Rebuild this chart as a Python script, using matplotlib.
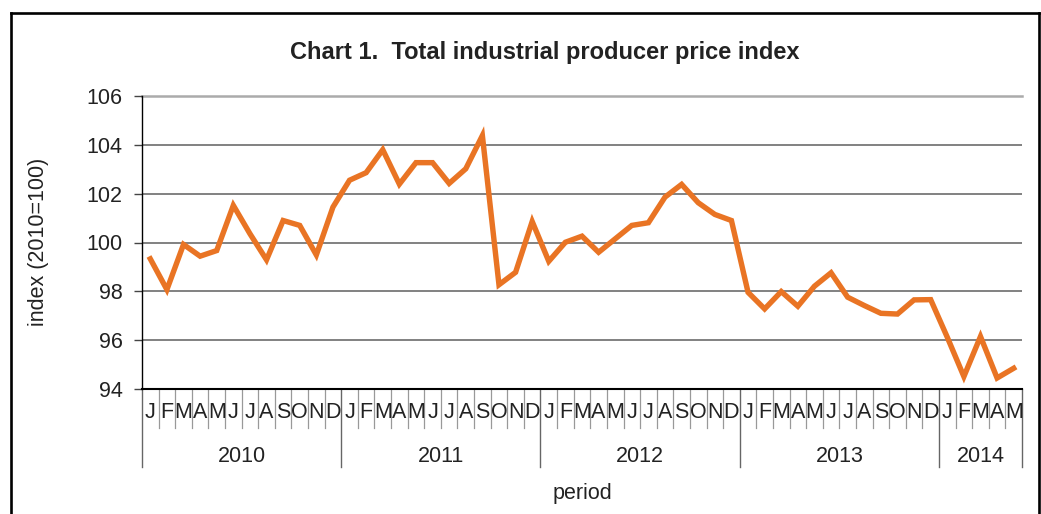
import matplotlib
matplotlib.use("Agg")
import matplotlib.pyplot as plt
from matplotlib.lines import Line2D

plt.rcParams['font.family'] = ['Liberation Sans', 'DejaVu Sans']

# monthly index values, Jan 2010 .. May 2014
years = ["2010", "2011", "2012", "2013", "2014"]
months_per_year = [12, 12, 12, 12, 5]
month_letters = ["J", "F", "M", "A", "M", "J", "J", "A", "S", "O", "N", "D"]
index_values = [
    99.33, 98.07, 99.92, 99.44, 99.67, 101.52, 100.36, 99.29, 100.90, 100.70, 99.49, 101.45,
    102.55, 102.86, 103.80, 102.39, 103.27, 103.27, 102.42, 103.02, 104.38, 98.27, 98.78, 100.86,
    99.23, 100.01, 100.26, 99.60, 100.15, 100.70, 100.81, 101.86, 102.38, 101.63, 101.15, 100.90,
    97.96, 97.28, 97.99, 97.39, 98.21, 98.76, 97.76, 97.42, 97.10, 97.07, 97.65, 97.66,
    96.12, 94.51, 96.15, 94.45, 94.85,
]
y_ticks = [94, 96, 98, 100, 102, 104, 106]


def show_graph():
    """Draw the PPI line chart and save it"""
    W, H = 1041, 514
    fig = plt.figure(figsize=(W / 100, H / 100), dpi=100)
    ax = fig.add_axes([142 / W, 1 - 389 / H, (1022 - 142) / W, (389 - 96) / H])

    n = len(index_values)
    xs = [i + 0.5 for i in range(n)]
    ax.plot(xs, index_values, color="#E97424", lw=3.9, solid_joinstyle="miter",
            zorder=3)

    ax.set_xlim(0, n)
    ax.set_ylim(y_ticks[0], y_ticks[-1])
    ax.set_yticks(y_ticks)
    ax.set_yticklabels([str(t) for t in y_ticks], fontsize=15.5, color="#222222")
    ax.tick_params(axis="y", direction="out", length=6, width=1, color="#444444",
                   pad=8)
    ax.set_xticks([])
    for t in y_ticks[1:-1]:
        ax.axhline(t, color="#5F5F5F", lw=1.1, zorder=1)
    ax.axhline(y_ticks[-1], color="#ABABAB", lw=1.8, zorder=1, clip_on=False)

    for s in ["top", "right"]:
        ax.spines[s].set_visible(False)
    ax.spines["left"].set_color("black")
    ax.spines["left"].set_linewidth(1.0)
    ax.spines["bottom"].set_color("black")
    ax.spines["bottom"].set_linewidth(1.5)

    # category axis: month letters and year groups
    trans = ax.get_xaxis_transform()
    ah = 389 - 96
    starts = [sum(months_per_year[:k]) for k in range(len(years) + 1)]
    for i in range(n):
        ax.text(i + 0.5, -23 / ah, month_letters[i % 12], transform=trans,
                ha="center", va="center", fontsize=15.5, color="#222222")
    for i in range(1, n):
        if i not in starts:
            ax.plot([i, i], [0, -39 / ah], transform=trans, color="#999999",
                    lw=0.9, clip_on=False)
    for b in starts:
        ax.plot([b, b], [0, -78 / ah], transform=trans, color="#666666",
                lw=1.0, clip_on=False)
    for k, yr in enumerate(years):
        ax.text((starts[k] + starts[k + 1]) / 2, -67 / ah, yr, transform=trans,
                ha="center", va="center", fontsize=15.5, color="#222222")

    fig.text(582 / W, 1 - 493 / H, "period", ha="center", va="center",
             fontsize=15.5, color="#222222")
    fig.text(39 / W, 1 - 242 / H, "index (2010=100)", ha="center", va="center",
             rotation=90, fontsize=15.5, color="#222222")
    fig.text(545 / W, 1 - 52 / H, "Chart 1.  Total industrial producer price index",
             ha="center", va="center", fontsize=17, fontweight="bold",
             color="#222222")

    # outer frame, open at the bottom
    fx0, fx1, fy = 11 / W, 1039 / W, 1 - 13 / H
    for xd, yd in [([fx0, fx0], [0, fy]), ([fx0, fx1], [fy, fy]), ([fx1, fx1], [fy, 0])]:
        fig.add_artist(Line2D(xd, yd, color="black", lw=1.9,
                              transform=fig.transFigure))

    fig.savefig("out.png", dpi=100)
    return


def main():
    """Main function of the program"""
    show_graph()
    return


if __name__ == "__main__":
    main()
